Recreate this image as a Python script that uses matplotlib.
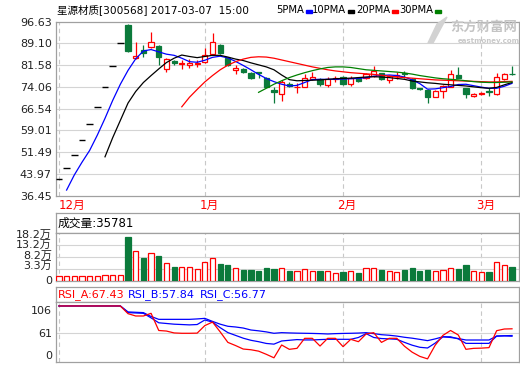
import matplotlib
matplotlib.use("Agg")
import matplotlib.pyplot as plt
import numpy as np
from matplotlib.patches import Rectangle, Polygon

plt.rcParams['font.family'] = ['DejaVu Sans', 'Noto Sans CJK SC']

W, H = 520, 365
nan = np.nan

# daily candles, 2016-12-01 .. 2017-03-07
opens = [42.1, 46.0, 50.5, 55.6, 61.2, 67.1, 73.9, 81.2, 89.2,
         95.5, 84.0, 86.8, 87.8, 88.3, 80.3, 83.0, 81.9, 81.5, 81.9,
         82.8, 85.5, 88.6, 84.2, 79.9, 80.3, 79.0, 79.2, 77.3, 73.0,
         71.5, 75.1, 74.0, 74.2, 76.7, 76.7, 74.7, 76.8, 77.6, 75.0,
         77.0, 77.0, 77.9, 78.8, 76.5, 78.0, 78.9, 76.8, 73.7, 73.0,
         70.7, 72.8, 74.2, 78.2, 73.6, 71.0, 71.5, 72.5, 71.5, 76.8, 78.7]
highs = [42.1, 46.0, 50.5, 55.6, 61.2, 67.1, 73.9, 81.2, 89.2,
         95.8, 89.7, 88.6, 93.2, 88.5, 84.0, 83.4, 83.4, 83.6, 83.4,
         87.4, 92.8, 88.9, 84.5, 81.7, 80.6, 79.2, 79.4, 77.5, 74.2,
         76.5, 75.9, 75.3, 78.4, 79.1, 77.0, 77.6, 78.0, 77.9, 77.8,
         77.4, 78.8, 81.3, 79.0, 78.2, 79.1, 79.6, 77.0, 73.8, 73.2,
         72.9, 74.6, 79.9, 80.8, 73.8, 71.9, 72.3, 73.6, 78.8, 79.0, 81.3]
lows = [42.1, 46.0, 50.5, 55.6, 61.2, 67.1, 73.9, 81.2, 89.2,
        86.2, 83.6, 84.5, 87.6, 81.7, 79.4, 81.7, 80.2, 80.5, 80.9,
        82.5, 85.2, 85.6, 81.4, 78.4, 79.0, 76.8, 77.0, 73.9, 68.4,
        69.3, 73.9, 71.8, 73.9, 76.4, 74.4, 74.2, 75.9, 74.7, 74.4,
        75.9, 76.7, 77.6, 76.5, 75.3, 76.8, 77.3, 73.3, 72.9, 68.6,
        70.5, 70.4, 74.0, 77.0, 70.4, 70.6, 71.3, 71.0, 71.3, 76.5, 78.3]
closes = [42.1, 46.0, 50.5, 55.6, 61.2, 67.1, 73.9, 81.2, 89.2,
          86.6, 84.8, 85.9, 89.7, 84.5, 83.6, 82.2, 82.2, 82.5, 82.5,
          85.1, 89.5, 85.9, 81.7, 80.5, 79.4, 77.0, 78.9, 74.2, 72.4,
          75.7, 74.4, 74.2, 77.3, 77.4, 75.0, 76.7, 77.0, 75.0, 77.3,
          76.2, 78.4, 79.6, 76.8, 77.9, 78.2, 78.6, 73.6, 73.5, 70.6,
          72.7, 74.4, 78.4, 77.3, 71.5, 71.7, 72.1, 72.3, 77.6, 78.5, 78.5]

ma5 = [nan, 38.4, 43.6, 48.0, 52.1, 57.4, 63.2, 69.4, 75.0, 79.8,
       83.8, 86.5, 87.0, 86.2, 85.4, 85.0, 84.0, 82.8, 82.6, 83.3,
       84.3, 84.7, 84.1, 82.9, 81.5, 80.0, 78.4, 77.0, 75.9, 75.0,
       74.4, 74.6, 75.6, 76.6, 76.7, 76.7, 76.7, 76.8, 76.9, 77.0,
       77.3, 77.8, 78.0, 78.2, 78.0, 77.5, 76.5, 75.2, 73.3, 73.4,
       73.8, 74.2, 74.9, 75.0, 74.5, 74.0, 73.6, 73.6, 74.3, 75.3]
ma10 = [nan, nan, nan, nan, nan, nan, 49.9, 56.5, 62.5, 68.5,
        72.5, 75.6, 78.0, 80.3, 82.5, 84.0, 85.1, 84.6, 84.2, 84.6,
        85.0, 85.0, 84.4, 83.7, 83.2, 82.4, 81.7, 81.0, 80.0, 78.2,
        76.6, 76.2, 76.3, 76.4, 76.5, 76.7, 76.9, 77.0, 77.1, 77.3,
        77.5, 77.6, 77.5, 77.3, 77.0, 76.7, 76.1, 75.8, 75.5, 75.3,
        75.0, 74.8, 74.6, 74.4, 74.1, 73.8, 73.6, 73.9, 74.8, 75.6]
ma20 = [nan, nan, nan, nan, nan, nan, nan, nan, nan, nan,
        nan, nan, nan, nan, nan, nan, 67.2, 70.5, 73.2, 75.8,
        78.0, 80.0, 81.6, 82.8, 83.7, 84.3, 84.5, 84.4, 84.0, 83.4,
        82.8, 82.2, 81.6, 81.0, 80.5, 80.0, 79.6, 79.3, 79.0, 78.8,
        78.6, 78.4, 78.1, 77.8, 77.5, 77.3, 77.1, 76.9, 76.7, 76.5,
        76.4, 76.3, 76.2, 76.1, 76.0, 75.9, 75.8, 75.8, 75.9, 76.0]
ma30 = [nan, nan, nan, nan, nan, nan, nan, nan, nan, nan,
        nan, nan, nan, nan, nan, nan, nan, nan, nan, nan,
        nan, nan, nan, nan, nan, nan, 72.2, 73.6, 75.0, 76.2,
        77.3, 78.2, 79.0, 79.7, 80.3, 80.8, 81.0, 81.0, 80.8, 80.4,
        80.0, 79.8, 79.6, 79.4, 79.2, 78.9, 78.5, 78.0, 77.6, 77.2,
        76.9, 76.7, 76.5, 76.2, 75.9, 75.7, 75.6, 75.6, 75.7, 75.8]

# volume in 万手
volume = [1.8, 1.8, 1.8, 1.8, 1.8, 1.8, 2.0, 2.0, 2.0,
          16.7, 11.2, 8.6, 10.5, 9.5, 6.7, 5.2, 5.2, 5.2, 4.4,
          7.1, 8.6, 6.4, 6.1, 4.8, 4.2, 4.2, 3.8, 4.9, 4.5,
          4.8, 3.8, 3.7, 4.3, 3.7, 3.8, 3.7, 2.9, 3.4, 3.7,
          3.0, 4.8, 4.8, 4.2, 3.5, 3.3, 4.2, 4.8, 3.8, 4.2,
          3.7, 4.0, 4.8, 4.5, 6.1, 3.7, 3.3, 3.3, 7.1, 5.9, 5.2]

rsi_a = [100, 100, 100, 100, 100, 100, 100, 100, 100,
         89, 85.7, 85.7, 89.5, 65, 64.2, 61.5, 61, 61, 61.2,
         72, 77, 63, 48, 43.5, 38.5, 37.5, 35.5, 31, 26,
         44.3, 38.1, 39.5, 53.8, 53.8, 42.8, 53.8, 53.8, 41.9, 52.4,
         49.0, 60, 61.9, 48, 53.8, 53.8, 42.5, 34, 28, 24.5,
         44, 58, 65, 58.6, 38.1, 39.5, 39.8, 40.5, 64.7, 67.1, 67.4]
rsi_b = [100, 100, 100, 100, 100, 100, 100, 100, 100,
         90.5, 90, 89.5, 83, 76, 75, 74, 73.5, 73, 73.5,
         80, 77, 69, 62, 58, 54, 51, 49, 46.5, 45.5,
         50, 51, 52, 51.5, 51.5, 52, 52.4, 52.4, 52.4, 52.4,
         55, 60.5, 55, 53.5, 53, 52.4, 48, 44, 41, 40,
         47, 56, 56, 53, 46.6, 46.6, 46.6, 46.6, 57, 57.3, 56.8]
rsi_c = [100, 100, 100, 100, 100, 100, 100, 100, 100,
         91.5, 91, 90.5, 85, 80.9, 80.9, 80.9, 80.9, 80.9, 81.5,
         82.3, 78, 74, 71, 70, 68.5, 65.7, 64.5, 63, 61,
         61.9, 61.5, 61.2, 61, 60.8, 60.5, 60, 60.5, 60.8, 61,
         61.3, 61.9, 60.5, 59, 58.2, 57, 55.3, 54, 52.3, 50.5,
         53, 56, 55, 53.5, 51.4, 51.4, 51.4, 51.4, 57, 57.5, 57.8]

price_ticks = [36.45, 43.97, 51.49, 59.01, 66.54, 74.06, 81.58, 89.10, 96.63]
month_starts = [0, 19, 37, 55]
month_names = ['12月', '1月', '2月', '3月']
vol_tick_labels = ['18.2万', '13.2万', '8.2万', '3.3万', '0']
rsi_tick_labels = ['106', '61', '0']
ma_names = ['5PMA', '10PMA', '20PMA', '30PMA']

RED = '#ff0000'
GREEN = '#0b7a3b'
BLUE = '#0000ff'
BORDER = '#a0a0a0'
GRID = '#d4d4d4'
SEP = '#c8c8c8'
ma_colors = [BLUE, 'black', RED, '#008000']


def rect(l, t, r, b):
    return [l / W, 1 - b / H, (r - l) / W, (b - t) / H]


def fx(x):
    return x / W


def fy(y):
    return 1 - y / H


fig = plt.figure(figsize=(W / 100, H / 100), dpi=100)
fig.patch.set_facecolor('white')

L, R = 56, 519
XLIM = (-0.38, 59.91)
x = np.arange(len(closes))


def style(ax):
    for s in ax.spines.values():
        s.set_color(BORDER)
        s.set_linewidth(0.9)
    ax.set_xlim(*XLIM)
    ax.set_xticks([])
    ax.tick_params(axis='y', length=0, pad=3, labelsize=8, labelcolor='#222222')
    for m in month_starts:
        ax.axvline(m, color=SEP, lw=0.8, ls=(0, (4, 3)), zorder=0)


def box(ax):
    for s in ax.spines.values():
        s.set_color(BORDER)
        s.set_linewidth(0.9)
    ax.set_xticks([])
    ax.set_yticks([])


# ---- price panel ----
ax = fig.add_axes(rect(L, 21.7, R, 195.7))
style(ax)
ax.set_ylim(36.45, 96.63)
ax.set_yticks(price_ticks, ['%.2f' % v for v in price_ticks])
for v in price_ticks[1:-1]:
    ax.axhline(v, color=GRID, lw=0.8, zorder=0)

bw = 0.68
for i in range(len(closes)):
    o, h, l, c = opens[i], highs[i], lows[i], closes[i]
    if o == h == l == c:
        ax.hlines(c, i - 0.42, i + 0.42, color='black', lw=1.0, zorder=3)
        continue
    up = c >= o
    col = RED if up else GREEN
    ax.vlines(i, l, h, color=col, lw=0.9, zorder=2)
    ax.bar(i, max(abs(c - o), 0.02), bottom=min(o, c), width=bw,
           facecolor='white' if up else GREEN, edgecolor=col, lw=0.9, zorder=3)

for ma, col in zip([ma5, ma10, ma20, ma30], ma_colors):
    ax.plot(x, ma, color=col, lw=0.9, zorder=4)

# month labels under price panel
for m, name in zip(month_starts, month_names):
    px = 58.9 + 7.68 * m
    if m == 0:
        fig.text(fx(59), fy(205.5), name, color=RED, fontsize=8.5,
                 ha='left', va='center')
    else:
        fig.text(fx(px + 4), fy(205.5), name, color=RED, fontsize=8.5,
                 ha='center', va='center')

# header
fig.text(fx(57), fy(10), '星源材质[300568] 2017-03-07  15:00', fontsize=7.6,
         ha='left', va='center', color='black')
renderer = fig.canvas.get_renderer()
for name, col, lx in zip(ma_names, ma_colors, [276, 312, 356, 399]):
    t = fig.text(fx(lx), fy(10), name, fontsize=7.2, ha='left', va='center')
    x1 = t.get_window_extent(renderer).x1
    fig.patches.append(Rectangle(((x1 + 2) / W, fy(13)), 6 / W, 3 / H,
                                 transform=fig.transFigure, color=col))

# watermark
fig.patches.append(Polygon([(fx(428), fy(43)), (fx(437), fy(24)), (fx(447), fy(17)),
                            (fx(441), fy(28)), (fx(433), fy(43))],
                           closed=True, transform=fig.transFigure,
                           color='#d2d2d2', zorder=0))
fig.text(fx(450), fy(27), '东方财富网', fontsize=9.6, fontweight='bold',
         color='#c4c4c4', ha='left', va='center', family='Noto Sans CJK SC')
fig.text(fx(458), fy(40.5), 'eastmoney.com', fontsize=5, fontweight='bold',
         color='#c8c8c8', ha='left', va='center')

# ---- volume panel ----
axvt = fig.add_axes(rect(L, 213.3, R, 232.7))
box(axvt)
axvt.text(0.004, 0.5, '成交量:35781', transform=axvt.transAxes, fontsize=8.5,
          ha='left', va='center', color='black')

axv = fig.add_axes(rect(L, 232.7, R, 280.7))
style(axv)
axv.set_ylim(0, 18.2)
axv.set_yticks([17.9, 13.9, 9.9, 5.95, 0.45], vol_tick_labels)
for v in [13.54, 8.87, 4.32]:
    axv.axhline(v, color=GRID, lw=0.8, zorder=0)
for i in range(len(volume)):
    up = closes[i] >= opens[i]
    col = RED if up else GREEN
    axv.bar(i, volume[i], width=bw, facecolor='white' if up else GREEN,
            edgecolor=col, lw=0.9, zorder=3)

# ---- RSI panel ----
axrt = fig.add_axes(rect(L, 287.3, R, 301.7))
box(axrt)
axrt.text(0.003, 0.5, 'RSI_A:67.43', transform=axrt.transAxes, fontsize=8,
          ha='left', va='center', color=RED)
axrt.text(0.155, 0.5, 'RSI_B:57.84', transform=axrt.transAxes, fontsize=8,
          ha='left', va='center', color=BLUE)
axrt.text(0.31, 0.5, 'RSI_C:56.77', transform=axrt.transAxes, fontsize=8,
          ha='left', va='center', color=BLUE)

axr = fig.add_axes(rect(L, 301.7, R, 362))
style(axr)
axr.set_ylim(20, 106.1)
axr.set_yticks([94.2, 61, 30], rsi_tick_labels)
axr.axhline(61, color=GRID, lw=0.8, zorder=0)
axr.plot(x, rsi_c, color=BLUE, lw=0.9)
axr.plot(x, rsi_b, color=BLUE, lw=0.9)
axr.plot(x, rsi_a, color=RED, lw=0.9)

fig.savefig('out.png', dpi=100, facecolor='white')
